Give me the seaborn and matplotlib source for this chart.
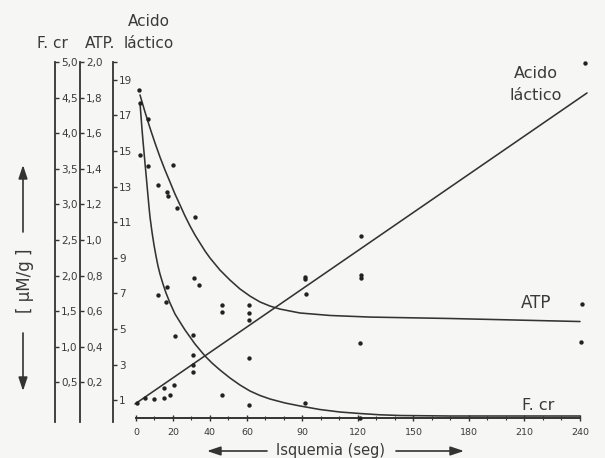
import numpy as np
import pandas as pd
import matplotlib
matplotlib.use("Agg")
import matplotlib.pyplot as plt
import matplotlib.patches as mpatches
import seaborn as sns

# ---------------- data ----------------
# time axis (seconds of ischaemia)
x_ticks = [0, 20, 40, 60, 90, 120, 150, 180, 210, 240]
x_ticklabels = ["0", "20", "40", "60", "90", "120", "150", "180", "210", "240"]

# y-axis ticks for the three scales
lac_ticks = [1, 3, 5, 7, 9, 11, 13, 15, 17, 19, 20]
lac_ticklabels = ["1", "3", "5", "7", "9", "11", "13", "15", "17", "19", ""]
atp_ticks = [0.2, 0.4, 0.6, 0.8, 1.0, 1.2, 1.4, 1.6, 1.8, 2.0]
atp_ticklabels = ["0,2", "0,4", "0,6", "0,8", "1,0", "1,2", "1,4", "1,6", "1,8", "2,0"]
fcr_ticks = [0.5, 1.0, 1.5, 2.0, 2.5, 3.0, 3.5, 4.0, 4.5, 5.0]
fcr_ticklabels = ["0,5", "1,0", "1,5", "2,0", "2,5", "3,0", "3,5", "4,0", "4,5", "5,0"]

# fitted lines / curves
lac_line_t = [-0.5, 243.8]
lac_line_v = [0.79, 18.26]

atp_curve_t = [2.16, 4.86, 7.57, 10.27, 12.97, 15.68, 18.38, 21.08, 23.78, 26.49,
               29.19, 31.89, 34.59, 37.30, 40.0, 42.7, 45.4, 48.1, 50.8, 56.2,
               61.6, 67.0, 72.4, 77.8, 88.6, 104.9, 126.5, 169.7, 240.0]
atp_curve_v = [1.815, 1.719, 1.629, 1.545, 1.466, 1.393, 1.326, 1.258, 1.197, 1.135,
               1.079, 1.028, 0.983, 0.938, 0.899, 0.865, 0.831, 0.803, 0.775, 0.725,
               0.685, 0.652, 0.629, 0.612, 0.590, 0.576, 0.567, 0.559, 0.542]

fcr_curve_t = [2.16, 2.70, 3.24, 3.78, 4.32, 4.86, 5.41, 5.95, 6.49, 7.03, 7.57,
               8.65, 9.73, 10.81, 11.89, 12.97, 14.59, 16.22, 18.38, 21.08, 23.78,
               26.49, 29.19, 31.89, 34.59, 37.30, 41.08, 45.41, 50.81, 56.22, 61.62,
               67.03, 72.43, 80.54, 88.65, 99.46, 110.27, 121.08, 131.89, 142.7,
               169.7, 240.0]
fcr_curve_v = [4.424, 4.242, 4.059, 3.890, 3.736, 3.581, 3.427, 3.272, 3.118, 2.963,
               2.823, 2.612, 2.430, 2.275, 2.135, 2.022, 1.882, 1.756, 1.615, 1.461,
               1.348, 1.236, 1.138, 1.039, 0.955, 0.871, 0.772, 0.674, 0.562, 0.463,
               0.379, 0.316, 0.267, 0.211, 0.169, 0.119, 0.084, 0.063, 0.045, 0.035,
               0.028, 0.028]

# measured points
lac_pts_t = [0.4, 4.9, 9.9, 15.3, 18.4, 15.3, 20.7, 31.0, 31.0, 31.0, 61.2, 61.2,
             91.4, 91.4, 91.9, 121.6, 121.6, 121.6, 242.7]
lac_pts_v = [0.83, 1.11, 1.05, 1.11, 1.29, 1.67, 1.85, 3.54, 2.98, 2.60, 5.51, 3.35,
             7.94, 7.79, 6.97, 10.22, 8.03, 7.87, 19.96]

atp_pts_t = [1.8, 6.3, 19.8, 12.1, 16.8, 17.1, 22.3, 31.9, 31.5, 34.1, 46.3, 46.3,
             61.2, 61.2, 121.1, 240.9, 240.4]
atp_pts_v = [1.84, 1.68, 1.42, 1.31, 1.27, 1.25, 1.18, 1.13, 0.785, 0.747, 0.635, 0.597,
             0.635, 0.588, 0.423, 0.639, 0.429]

fcr_pts_t = [2.2, 2.2, 6.3, 16.6, 11.7, 16.1, 21.1, 31.0, 46.3, 61.2, 91.4, 121.1]
fcr_pts_v = [4.43, 3.70, 3.54, 1.84, 1.73, 1.63, 1.15, 1.17, 0.32, 0.18, 0.21, 0.0]

# ---------------- style ----------------
BG = "#f6f6f4"
INK = "#333333"
TXT = "#3a3a3a"

sns.set_theme(style="white")
plt.rcParams["font.family"] = ["DejaVu Sans"]

W, H = 605, 458
fig = plt.figure(figsize=(W / 100, H / 100), dpi=100, facecolor=BG)
ax = fig.add_axes([113 / W, 40 / H, 485.5 / W, 356 / H])
ax.set_facecolor(BG)
ax.grid(False)

ax2 = ax.twinx()
ax3 = ax.twinx()

# ---------------- marks ----------------
lw = 1.15
sns.lineplot(x=lac_line_t, y=lac_line_v, ax=ax, color=INK, lw=lw,
             estimator=None, sort=False)
sns.lineplot(x=atp_curve_t, y=atp_curve_v, ax=ax2, color=INK, lw=lw,
             estimator=None, sort=False)
sns.lineplot(x=fcr_curve_t, y=fcr_curve_v, ax=ax3, color=INK, lw=lw,
             estimator=None, sort=False)

dot = dict(color="#222222", s=10, linewidth=0, clip_on=False, zorder=5)
sns.scatterplot(x=lac_pts_t, y=lac_pts_v, ax=ax, **dot)
sns.scatterplot(x=atp_pts_t, y=atp_pts_v, ax=ax2, **dot)
sns.scatterplot(x=fcr_pts_t, y=fcr_pts_v, ax=ax3, **dot)

for a in (ax, ax2, ax3):
    for ln in a.lines:
        ln.set_clip_on(False)
        ln.set_solid_joinstyle("round")

# ---------------- axes ----------------
ax.set_xlim(-12.43, 250)
ax.set_ylim(0, 20)
ax2.set_ylim(0, 2)
ax3.set_ylim(0, 5)

ax.set_xticks(x_ticks)
ax.set_xticklabels(x_ticklabels)
ax.set_xticks(np.arange(0, 241, 10), minor=True)
ax.tick_params(axis="x", which="major", bottom=True, direction="inout", length=4,
               width=1, pad=5, labelsize=6.8, colors=INK, labelcolor=TXT)
ax.tick_params(axis="x", which="minor", bottom=True, direction="inout", length=3,
               width=0.8, colors=INK)

for a, ticks, labels, pos in ((ax, lac_ticks, lac_ticklabels, 0.0),
                              (ax2, atp_ticks, atp_ticklabels, -0.068),
                              (ax3, fcr_ticks, fcr_ticklabels, -0.1195)):
    a.yaxis.tick_right()
    a.set_yticks(ticks)
    a.set_yticklabels(labels)
    a.tick_params(axis="y", which="major", right=True, left=False, labelright=True,
                  labelleft=False, direction="out", length=3, width=1, pad=1.5,
                  labelsize=7.5, colors=INK, labelcolor=TXT)
    for s in ("left", "top"):
        a.spines[s].set_visible(False)
    a.spines["right"].set_position(("axes", pos))
    a.spines["right"].set_bounds(-0.01 * a.get_ylim()[1], a.get_ylim()[1])
    a.spines["right"].set_color(INK)
    a.spines["right"].set_linewidth(1.3)
    a.set_xlabel("")
    a.set_ylabel("")
    a.grid(False)

for a in (ax2, ax3):
    a.spines["bottom"].set_visible(False)
    a.tick_params(axis="x", which="both", bottom=False, labelbottom=False)

ax.spines["bottom"].set_bounds(0, 240)
ax.spines["bottom"].set_color(INK)
ax.spines["bottom"].set_linewidth(1.4)


# ---------------- texts ----------------
def ftext(x, y, s, **kw):
    fig.text(x / W, 1 - y / H, s, ha="center", va="center", color=TXT, **kw)


ftext(52, 43, "F. cr", fontsize=11)
ftext(100, 43, "ATP.", fontsize=11)
ftext(149, 43, "láctico", fontsize=11)
ftext(149, 22, "Acido", fontsize=11)

ftext(536, 73, "Acido", fontsize=11.5)
ftext(536, 95, "láctico", fontsize=11.5)
ftext(536, 303, "ATP", fontsize=12)
ftext(538, 405, "F. cr", fontsize=11.5)

ftext(331, 451, "Isquemia (seg)", fontsize=10.5)
ftext(25, 281, "[ μM/g ]", fontsize=12, rotation=90)

for (x0, y0), (x1, y1) in (((267, 451), (207, 451)), ((396, 451), (464, 451)),
                           ((23, 232), (23, 165)), ((23, 333), (23, 391))):
    fig.add_artist(mpatches.FancyArrowPatch(
        (x0 / W, 1 - y0 / H), (x1 / W, 1 - y1 / H), transform=fig.transFigure,
        arrowstyle="-|>,head_length=0.9,head_width=0.3", mutation_scale=9,
        color=INK, lw=1.2, shrinkA=0, shrinkB=0))

fig.savefig("out.png", dpi=100, facecolor=BG)
